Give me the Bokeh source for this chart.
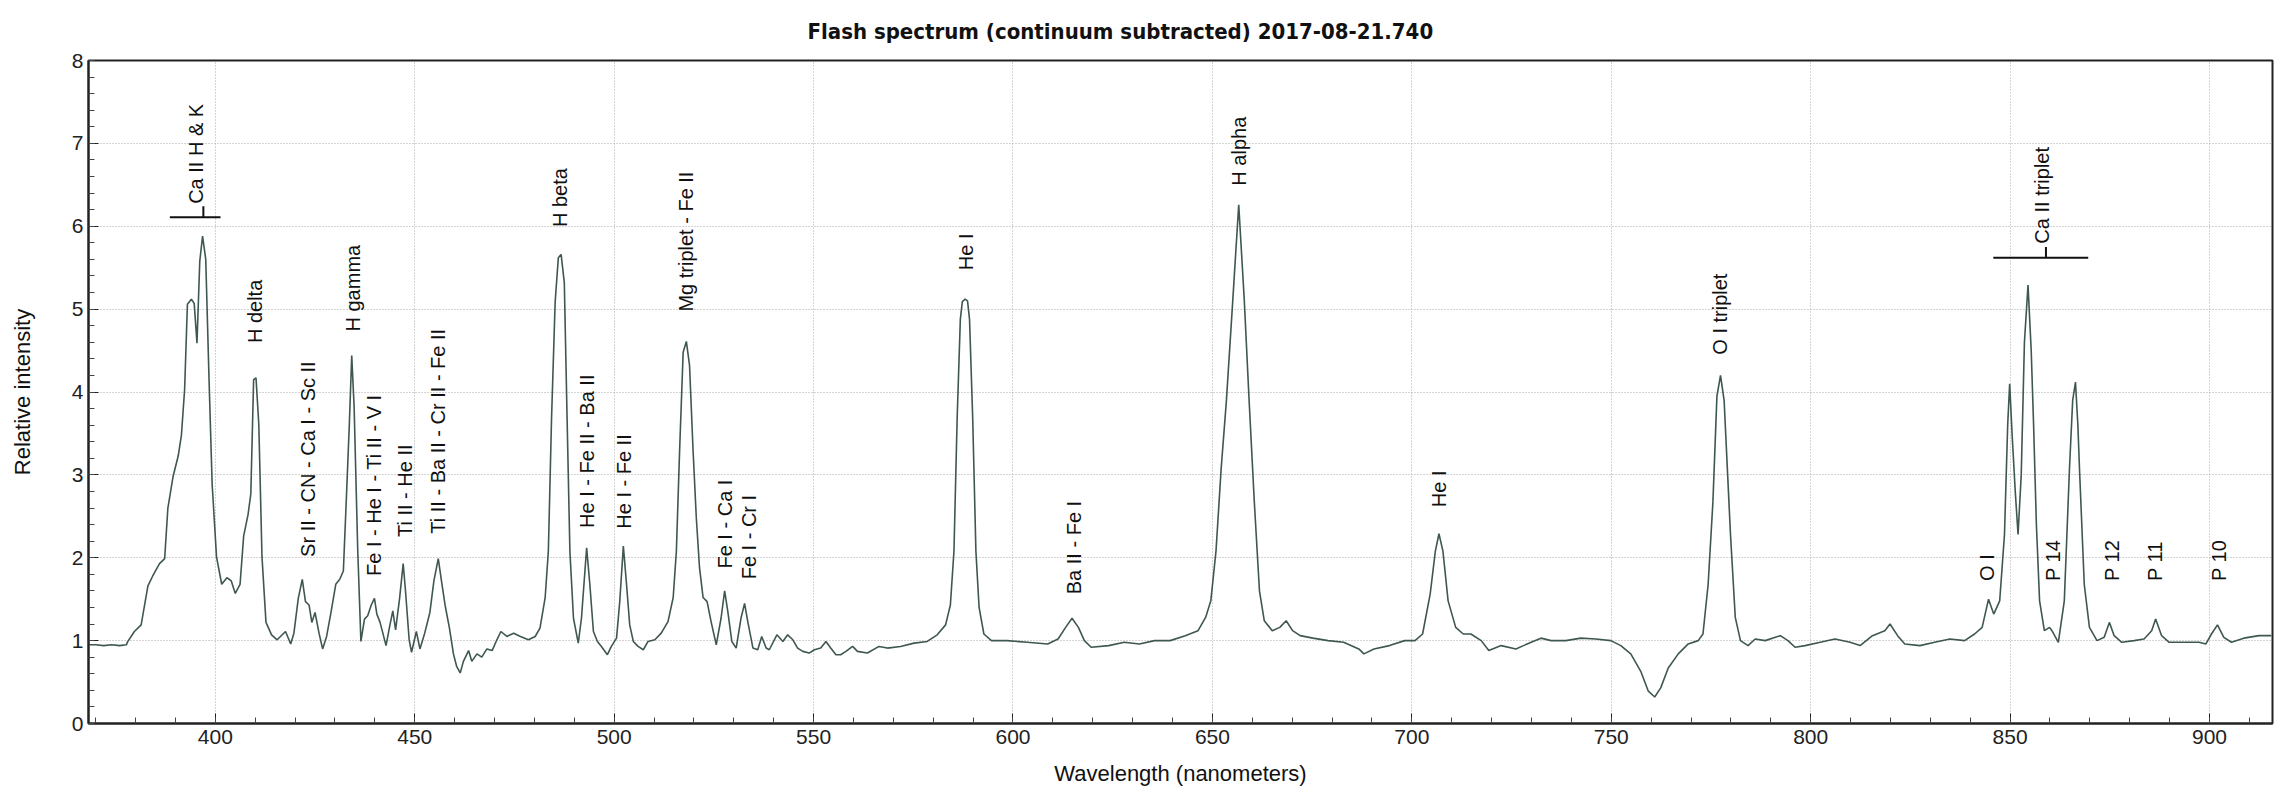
import math
from bokeh.plotting import figure
from bokeh.models import ColumnDataSource, SingleIntervalTicker, Title
from bokeh.core.properties import value
from bokeh.embed import file_html
from bokeh.resources import INLINE

# ---------------- data ----------------
wavelength = [
    368.0, 370.0, 372.0, 374.0, 376.0, 377.7, 378.0, 379.7, 381.4, 383.1,
    384.3, 386.0, 387.3, 388.1, 389.4, 390.7, 391.5, 392.3, 393.0, 394.0,
    394.7, 395.4, 396.1, 396.8, 397.6, 398.4, 399.2, 400.3, 401.6, 402.9,
    404.0, 405.0, 406.2, 407.1, 408.2, 408.9, 409.6, 410.2, 410.9, 411.7,
    412.7, 414.1, 415.5, 417.6, 418.9, 419.7, 420.8, 421.8, 422.6, 423.5,
    424.2, 425.0, 426.0, 426.9, 427.9, 429.0, 430.2, 431.2, 432.1, 432.9,
    433.6, 434.2, 434.8, 435.7, 436.5, 437.4, 438.2, 439.1, 439.9, 440.5,
    441.3, 442.0, 442.8, 443.7, 444.5, 445.2, 446.2, 447.1, 447.7, 448.6,
    449.2, 450.4, 451.3, 452.5, 453.8, 454.8, 455.9, 456.7, 457.6, 458.7,
    459.7, 460.5, 461.4, 462.2, 463.5, 464.3, 465.6, 466.8, 468.1, 469.4,
    470.6, 471.6, 473.1, 474.8, 476.5, 478.5, 480.2, 481.4, 482.7, 483.5,
    484.3, 485.2, 486.0, 486.7, 487.5, 488.2, 488.9, 489.8, 491.0, 491.8,
    493.1, 493.9, 494.8, 495.8, 496.8, 498.3, 499.3, 500.6, 501.4, 502.3,
    503.1, 503.9, 504.8, 506.0, 507.3, 508.5, 510.2, 511.8, 513.5, 514.8,
    515.6, 516.4, 517.3, 518.1, 518.9, 519.8, 520.6, 521.4, 522.3, 523.3,
    524.3, 525.6, 526.8, 527.7, 528.5, 529.5, 530.6, 531.8, 532.7, 533.5,
    534.8, 536.0, 537.0, 538.1, 538.9, 540.8, 542.3, 543.5, 544.8, 546.0,
    547.3, 548.9, 550.2, 551.8, 553.1, 554.3, 555.6, 556.8, 558.1, 559.8,
    561.0, 563.5, 566.4, 568.5, 571.8, 575.2, 578.5, 581.0, 583.1, 584.3,
    585.2, 586.0, 586.8, 587.3, 588.0, 588.6, 589.1, 589.9, 590.7, 591.5,
    592.7, 594.6, 598.5, 603.6, 608.7, 611.3, 613.2, 614.8, 616.4, 617.9,
    619.6, 624.0, 627.9, 631.7, 635.5, 639.4, 643.2, 646.4, 648.3, 649.6,
    650.9, 652.2, 653.5, 655.1, 656.6, 658.0, 659.2, 660.5, 661.8, 663.0,
    665.0, 666.9, 668.5, 670.1, 672.0, 675.2, 679.0, 682.9, 686.7, 688.0,
    690.5, 694.4, 698.2, 700.8, 702.7, 704.6, 705.9, 706.8, 707.8, 709.1,
    711.0, 712.9, 714.8, 717.4, 719.3, 722.4, 726.1, 729.9, 732.4, 734.9,
    738.6, 742.4, 746.1, 749.9, 752.4, 754.9, 757.4, 759.3, 760.9, 762.4,
    764.3, 766.8, 769.3, 771.8, 773.0, 774.3, 775.5, 776.5, 777.4, 778.3,
    779.9, 781.1, 782.4, 784.3, 786.1, 788.6, 792.4, 794.3, 796.1, 798.6,
    802.4, 806.1, 809.9, 812.4, 815.5, 818.6, 819.9, 821.8, 823.6, 827.4,
    831.1, 834.9, 838.6, 841.1, 843.0, 844.6, 845.9, 847.4, 848.6, 849.4,
    849.9, 850.5, 851.3, 852.0, 852.8, 853.6, 854.5, 855.3, 855.9, 856.6,
    857.4, 858.6, 859.9, 860.5, 862.1, 863.6, 864.9, 865.7, 866.4, 867.0,
    867.4, 868.6, 869.9, 871.8, 873.6, 874.9, 876.1, 878.0, 881.1, 883.6,
    885.5, 886.5, 888.0, 889.9, 893.6, 897.4, 899.1, 900.5, 902.0, 903.6,
    905.5, 908.6, 912.4, 915.5,
]
intensity = [
    0.95, 0.95, 0.94, 0.95, 0.94, 0.95, 0.985, 1.11, 1.19, 1.66,
    1.78, 1.93, 1.99, 2.60, 2.98, 3.23, 3.48, 4.03, 5.06, 5.12,
    5.07, 4.59, 5.58, 5.88, 5.60, 4.19, 2.89, 2.01, 1.68, 1.76,
    1.72, 1.57, 1.68, 2.26, 2.52, 2.77, 4.15, 4.17, 3.61, 2.01,
    1.22, 1.07, 1.01, 1.11, 0.96, 1.09, 1.51, 1.74, 1.47, 1.43,
    1.22, 1.34, 1.09, 0.90, 1.05, 1.34, 1.68, 1.74, 1.84, 2.77,
    3.61, 4.44, 3.82, 2.10, 0.99, 1.26, 1.30, 1.43, 1.51, 1.32,
    1.22, 1.09, 0.94, 1.17, 1.36, 1.13, 1.51, 1.93, 1.59, 1.01,
    0.86, 1.11, 0.90, 1.09, 1.34, 1.72, 1.99, 1.72, 1.43, 1.15,
    0.84, 0.69, 0.61, 0.75, 0.88, 0.75, 0.84, 0.80, 0.90, 0.88,
    1.01, 1.11, 1.05, 1.09, 1.05, 1.01, 1.05, 1.15, 1.52, 2.08,
    3.68, 5.08, 5.62, 5.66, 5.32, 3.68, 2.08, 1.27, 0.97, 1.27,
    2.12, 1.68, 1.11, 0.99, 0.93, 0.83, 0.93, 1.03, 1.47, 2.14,
    1.68, 1.19, 0.99, 0.93, 0.89, 0.99, 1.01, 1.09, 1.23, 1.52,
    2.08, 3.28, 4.48, 4.61, 4.32, 3.28, 2.48, 1.88, 1.52, 1.47,
    1.23, 0.95, 1.27, 1.60, 1.35, 0.99, 0.91, 1.27, 1.45, 1.23,
    0.91, 0.89, 1.05, 0.91, 0.89, 1.07, 0.99, 1.07, 1.01, 0.91,
    0.87, 0.85, 0.89, 0.91, 0.99, 0.91, 0.83, 0.83, 0.87, 0.93,
    0.87, 0.85, 0.93, 0.91, 0.93, 0.97, 0.99, 1.07, 1.19, 1.43,
    2.08, 3.68, 4.88, 5.09, 5.12, 5.10, 4.88, 3.68, 2.08, 1.40,
    1.08, 1.00, 1.00, 0.98, 0.96, 1.02, 1.16, 1.27, 1.16, 1.00,
    0.92, 0.94, 0.98, 0.96, 1.00, 1.00, 1.06, 1.12, 1.28, 1.48,
    2.08, 3.08, 3.89, 5.10, 6.26, 5.10, 3.90, 2.68, 1.60, 1.24,
    1.12, 1.16, 1.24, 1.12, 1.06, 1.03, 1.00, 0.98, 0.90, 0.84,
    0.90, 0.94, 1.00, 1.00, 1.08, 1.56, 2.08, 2.29, 2.08, 1.48,
    1.16, 1.08, 1.08, 1.00, 0.88, 0.94, 0.90, 0.98, 1.03, 1.00,
    1.00, 1.03, 1.02, 1.00, 0.94, 0.84, 0.63, 0.39, 0.32, 0.43,
    0.67, 0.84, 0.96, 1.00, 1.08, 1.68, 2.68, 3.95, 4.20, 3.90,
    2.28, 1.28, 1.00, 0.94, 1.02, 1.00, 1.06, 1.00, 0.92, 0.94,
    0.98, 1.02, 0.98, 0.94, 1.06, 1.12, 1.20, 1.06, 0.96, 0.94,
    0.98, 1.02, 1.00, 1.08, 1.16, 1.50, 1.32, 1.48, 2.28, 3.60,
    4.10, 3.50, 2.80, 2.28, 3.00, 4.60, 5.29, 4.50, 3.60, 2.40,
    1.48, 1.12, 1.16, 1.12, 0.98, 1.48, 3.08, 3.90, 4.12, 3.60,
    3.08, 1.68, 1.16, 1.00, 1.04, 1.22, 1.06, 0.98, 1.00, 1.02,
    1.12, 1.26, 1.06, 0.98, 0.98, 0.98, 0.96, 1.08, 1.19, 1.04,
    0.98, 1.03, 1.06, 1.06,
]

line_labels = [
    "Ca II H & K", "H delta", "Sr II - CN - Ca I - Sc II", "H gamma",
    "Fe I - He I - Ti II - V I", "Ti II - He II", "Ti II - Ba II - Cr II - Fe II",
    "H beta", "He I - Fe II - Ba II", "He I - Fe II", "Mg triplet - Fe II",
    "Fe I - Ca I", "Fe I - Cr I", "He I", "Ba II - Fe I", "H alpha", "He I",
    "O I triplet", "O I", "Ca II triplet", "P 14", "P 12", "P 11", "P 10",
]
label_x = [395.2, 409.9, 423.3, 434.5, 439.8, 447.5, 455.8, 486.3, 493.2, 502.4,
           518.0, 527.8, 533.9, 588.1, 615.3, 656.6, 706.7, 777.3, 844.1, 857.9,
           860.8, 875.5, 886.4, 902.3]
label_y = [6.27, 4.59, 2.01, 4.73, 1.78, 2.25, 2.29, 5.99, 2.36, 2.35,
           4.97, 1.87, 1.74, 5.47, 1.56, 6.49, 2.61, 4.45, 1.72, 5.79,
           1.72, 1.72, 1.72, 1.72]

# group brackets (Ca II H & K, Ca II triplet)
bracket_x0 = [388.6, 845.8]
bracket_x1 = [401.3, 869.6]
bracket_y = [6.11, 5.62]
bracket_mid = [397.0, 859.0]

title_text = "Flash spectrum   (continuum subtracted)   2017-08-21.740"

# ---------------- figure ----------------
p = figure(width=2282, height=796, x_range=(368.2, 915.8), y_range=(0, 8),
           output_backend="svg", toolbar_location=None,
           min_border_left=88, min_border_right=10, min_border_top=59,
           min_border_bottom=73)
p.background_fill_color = "white"
p.border_fill_color = "white"
p.outline_line_color = "#222222"
p.outline_line_width = 2

p.title = Title(text=title_text, align="left", offset=719,
                standoff=33, vertical_align="bottom",
                text_font="DejaVu Sans Condensed", text_font_style="bold",
                text_font_size="22px", text_color="#111111")

p.xaxis.ticker = SingleIntervalTicker(interval=50, num_minor_ticks=5)
p.yaxis.ticker = SingleIntervalTicker(interval=1, num_minor_ticks=5)
for ax in (p.xaxis[0], p.yaxis[0]):
    ax.major_tick_in = 10
    ax.major_tick_out = 0
    ax.minor_tick_in = 6
    ax.minor_tick_out = 0
    ax.axis_line_color = "#222222"
    ax.axis_line_width = 2
    ax.major_tick_line_color = "#222222"
    ax.minor_tick_line_color = "#444444"
    ax.major_label_text_font = "Liberation Sans"
    ax.major_label_text_font_size = "21px"
    ax.major_label_text_color = "#222222"
    ax.axis_label_text_font = "Liberation Sans"
    ax.axis_label_text_font_size = "22px"
    ax.axis_label_text_font_style = "normal"
    ax.axis_label_text_color = "#111111"

p.xaxis.axis_label = "Wavelength (nanometers)"
p.yaxis.axis_label = "Relative intensity"
p.xaxis.major_label_standoff = 6
p.yaxis.major_label_standoff = 5
p.xaxis.axis_label_standoff = 14
p.yaxis.axis_label_standoff = 34

p.grid.grid_line_color = "#a8a8a8"
p.grid.grid_line_dash = "1 2"
p.grid.grid_line_width = 1

p.line(wavelength, intensity, line_color="#3f5752", line_width=1.6)

lab_src = ColumnDataSource(dict(x=label_x, y=label_y, t=line_labels))
p.text(x="x", y="y", text="t", source=lab_src, angle=math.pi / 2,
       text_align="left", text_baseline="middle",
       text_font=value("Liberation Sans"), text_font_size="20px",
       text_color="#111111")

br_src = ColumnDataSource(dict(x0=bracket_x0, x1=bracket_x1, y=bracket_y,
                               xm=bracket_mid,
                               ytop=[b + 0.13 for b in bracket_y]))
p.segment(x0="x0", y0="y", x1="x1", y1="y", source=br_src,
          line_color="#111111", line_width=2)
p.segment(x0="xm", y0="y", x1="xm", y1="ytop", source=br_src,
          line_color="#111111", line_width=2)

open("out.html", "w").write(file_html(p, INLINE))
